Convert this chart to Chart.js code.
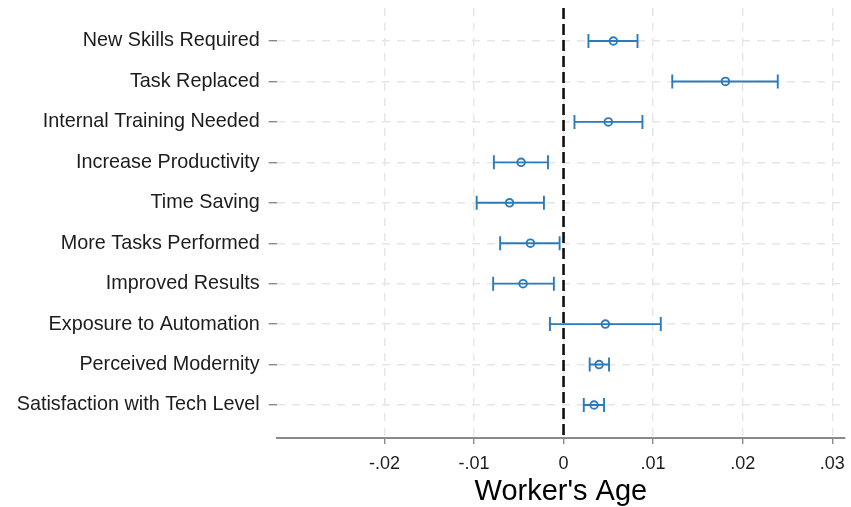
<!DOCTYPE html>
<html>
<head>
<meta charset="utf-8">
<script src="https://cdn.jsdelivr.net/npm/chart.js@4"></script>
<style>
  html, body { margin: 0; padding: 0; background: #fff; }
  #wrap { width: 851px; height: 507px; }
</style>
</head>
<body>
<div id="wrap"><canvas id="coef" width="851" height="507"></canvas></div>
<script>
// Coefficients on worker's age, one row per outcome, with 95% CIs
const categories = [
  "New Skills Required",
  "Task Replaced",
  "Internal Training Needed",
  "Increase Productivity",
  "Time Saving",
  "More Tasks Performed",
  "Improved Results",
  "Exposure to Automation",
  "Perceived Modernity",
  "Satisfaction with Tech Level",
];
const estimates = [0.00556, 0.01808, 0.00500, -0.00474, -0.00603, -0.00370, -0.00452, 0.00467, 0.00397, 0.00341];
const ciLow     = [0.00278, 0.01214, 0.00122, -0.00778, -0.00970, -0.00708, -0.00786, -0.00152, 0.00292, 0.00226];
const ciHigh    = [0.00826, 0.02392, 0.00881, -0.00174, -0.00219, -0.00044, -0.00108, 0.01086, 0.00508, 0.00452];

const xTicks = [-0.02, -0.01, 0, 0.01, 0.02, 0.03];
const xTickLabels = ["-.02", "-.01", "0", ".01", ".02", ".03"];
const xTitle = "Worker's Age";

const BLUE = "#2b7bba";
const GRID = "#e6e6e6";
const AXIS = "#8a8a8a";
const TEXT = "#1c1c1c";
const FONT = "'Liberation Sans', Arial, Helvetica, sans-serif";

// whiskers with end caps, then the dashed reference line at zero
const ciBars = {
  id: "ciBars",
  beforeDatasetsDraw(chart) {
    const { ctx, chartArea, scales: { x, y } } = chart;
    ctx.save();
    ctx.strokeStyle = BLUE;
    ctx.lineWidth = 1.9;
    const cap = 7;
    categories.forEach((_, i) => {
      const py = y.getPixelForValue(i + 1);
      const x0 = x.getPixelForValue(ciLow[i]);
      const x1 = x.getPixelForValue(ciHigh[i]);
      ctx.beginPath();
      ctx.moveTo(x0, py); ctx.lineTo(x1, py);
      ctx.moveTo(x0, py - cap); ctx.lineTo(x0, py + cap);
      ctx.moveTo(x1, py - cap); ctx.lineTo(x1, py + cap);
      ctx.stroke();
    });
    const zx = x.getPixelForValue(0);
    ctx.strokeStyle = "#111";
    ctx.lineWidth = 2.6;
    ctx.setLineDash([11, 5]);
    ctx.beginPath();
    ctx.moveTo(zx, chartArea.top);
    ctx.lineTo(zx, chartArea.bottom);
    ctx.stroke();
    ctx.restore();
  },
};

new Chart(document.getElementById("coef").getContext("2d"), {
  type: "scatter",
  data: {
    datasets: [{
      data: estimates.map((v, i) => ({ x: v, y: i + 1 })),
      pointStyle: "circle",
      pointRadius: 3.8,
      pointBorderWidth: 1.9,
      pointBorderColor: BLUE,
      pointBackgroundColor: "rgba(255,255,255,0)",
    }],
  },
  options: {
    responsive: false,
    animation: false,
    layout: { padding: { top: 8, right: 3, left: 0, bottom: 0 } },
    plugins: { legend: { display: false }, tooltip: { enabled: false } },
    scales: {
      x: {
        type: "linear",
        min: -0.03203,
        max: 0.03144,
        afterBuildTicks: (axis) => { axis.ticks = xTicks.map((v) => ({ value: v })); },
        afterFit: (axis) => {
          axis.height = 69;
          axis.paddingLeft = 0;
          axis.paddingRight = 0;
        },
        ticks: {
          color: TEXT,
          font: { family: FONT, size: 18 },
          padding: 9,
          maxRotation: 0,
          callback: (v) => xTickLabels[xTicks.indexOf(v)] ?? "",
        },
        grid: { color: GRID, lineWidth: 1.4, tickLength: 6, tickColor: AXIS, tickWidth: 1.4, tickBorderDash: [] },
        border: { display: true, color: AXIS, width: 2, dash: [8, 7] },
        title: {
          display: true,
          text: xTitle,
          color: "#000",
          font: { family: FONT, size: 29 },
          padding: { top: 0, bottom: -2 },
        },
      },
      y: {
        type: "linear",
        reverse: true,
        min: 0.184,
        max: 10.816,
        afterBuildTicks: (axis) => { axis.ticks = categories.map((_, i) => ({ value: i + 1 })); },
        afterFit: (axis) => {
          axis.width = 276.7;
          axis.paddingTop = 0;
          axis.paddingBottom = 0;
        },
        ticks: {
          color: TEXT,
          font: { family: FONT, size: 19.8 },
          padding: 9,
          autoSkip: false,
          callback: (v) => categories[v - 1] ?? "",
        },
        grid: { color: GRID, lineWidth: 1.4, tickLength: 8, tickColor: AXIS, tickWidth: 1.4, tickBorderDash: [] },
        border: { display: false, dash: [8, 7] },
      },
    },
  },
  plugins: [ciBars],
});
</script>
</body>
</html>
